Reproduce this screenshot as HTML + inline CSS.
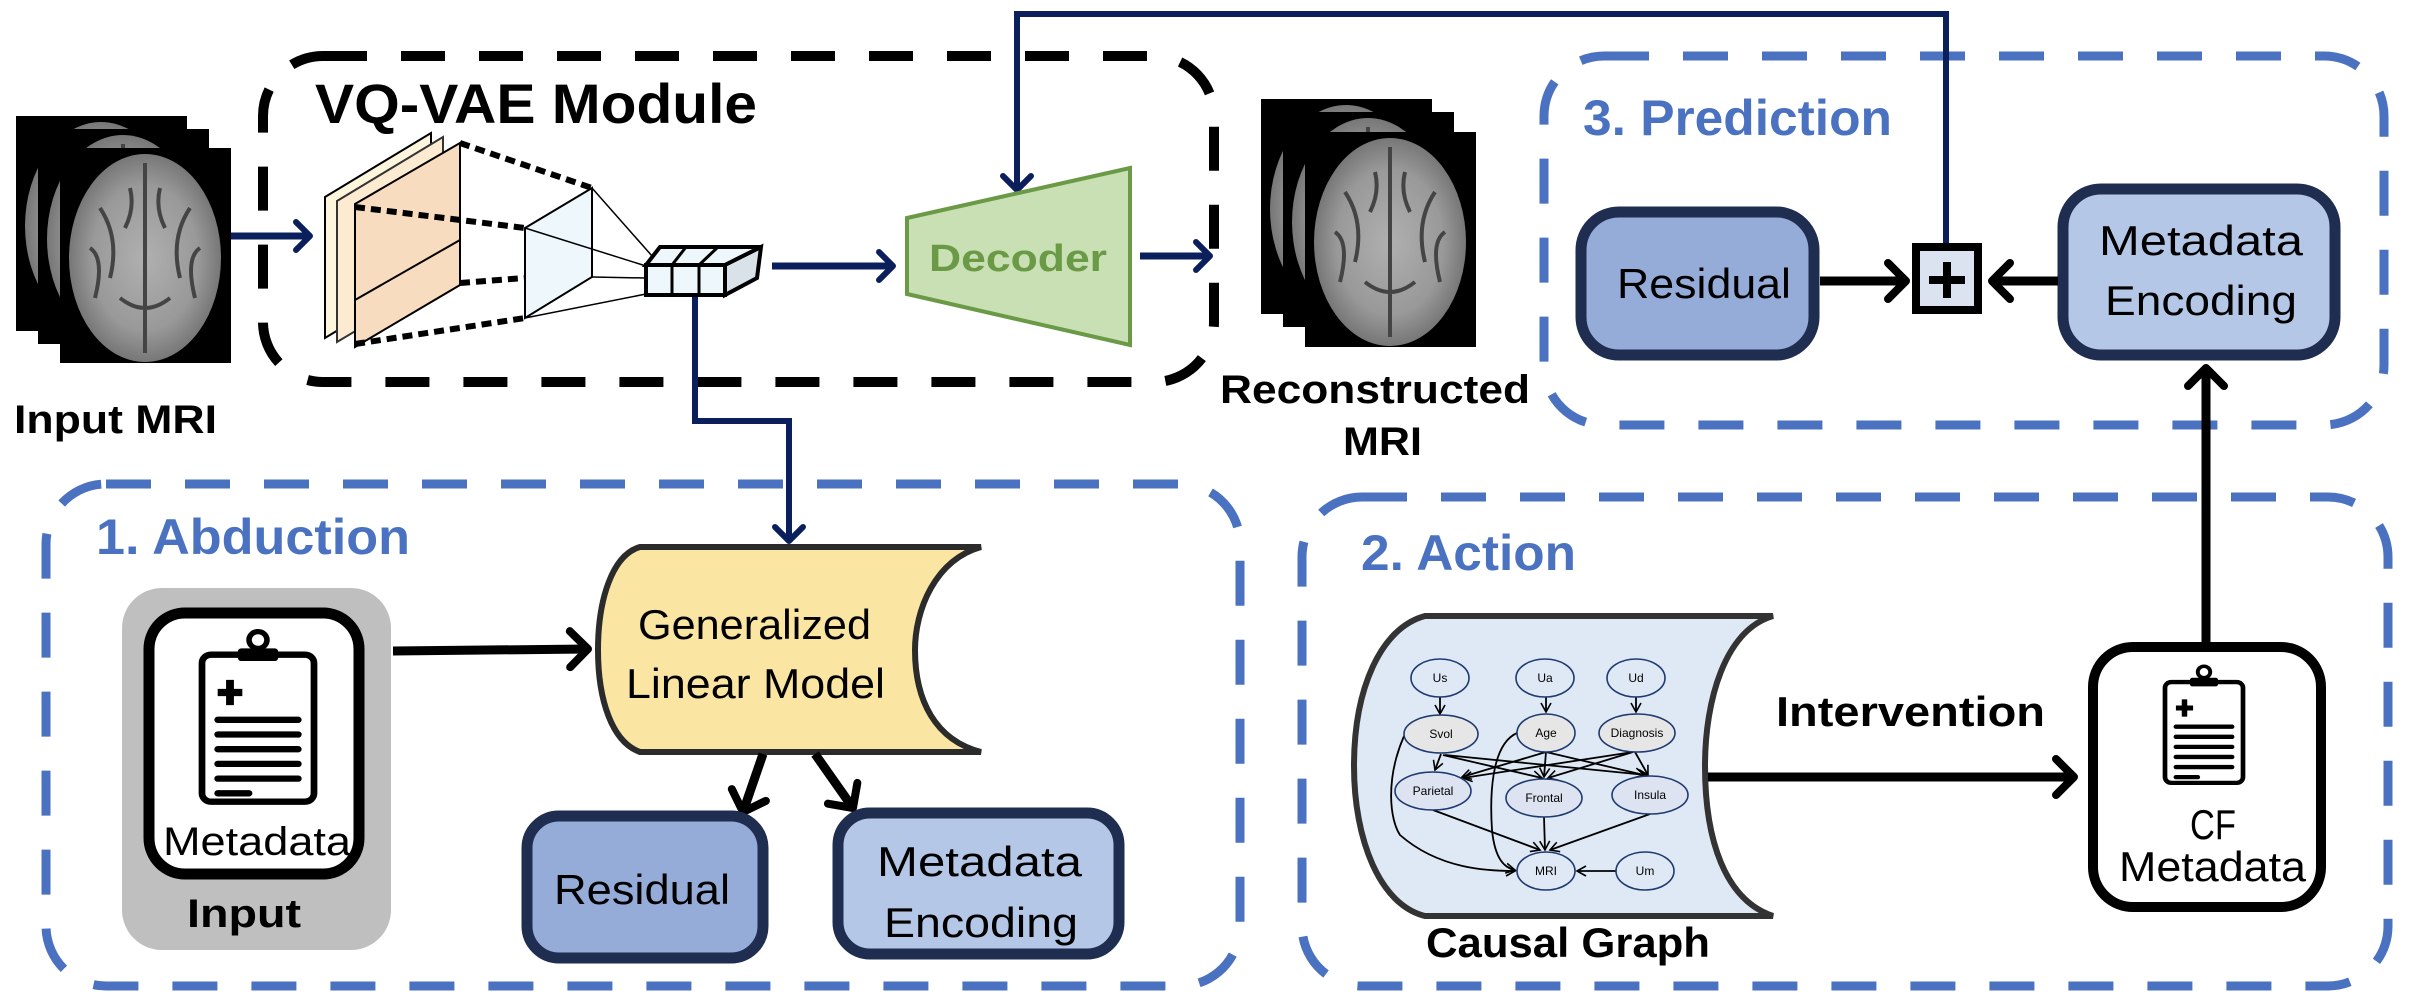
<!DOCTYPE html>
<html><head><meta charset="utf-8"><style>
html,body{margin:0;padding:0;background:#fff}
svg{display:block}
text{font-family:"Liberation Sans",sans-serif}
</style></head><body>
<svg width="2412" height="1008" viewBox="0 0 2412 1008" xmlns="http://www.w3.org/2000/svg">
<defs>
<marker id="an" markerUnits="userSpaceOnUse" markerWidth="40" markerHeight="40" refX="18" refY="20" orient="auto">
<path d="M4,6 L18,20 L4,34" fill="none" stroke="#0b1f5c" stroke-width="6" stroke-linecap="round" stroke-linejoin="round"/></marker>
<marker id="ak" markerUnits="userSpaceOnUse" markerWidth="50" markerHeight="50" refX="24" refY="25" orient="auto">
<path d="M6,7 L24,25 L6,43" fill="none" stroke="#000" stroke-width="8" stroke-linecap="round" stroke-linejoin="round"/></marker>
<marker id="as" markerUnits="userSpaceOnUse" markerWidth="12" markerHeight="12" refX="10" refY="6" orient="auto">
<path d="M1,1 L10,6 L1,11" fill="none" stroke="#000" stroke-width="1.6"/></marker>
<radialGradient id="br" cx="50%" cy="50%" r="50%">
<stop offset="0" stop-color="#b0b0b0"/><stop offset="0.7" stop-color="#999"/><stop offset="1" stop-color="#777"/></radialGradient>
<g id="slice">
<rect x="0" y="0" width="171" height="215" fill="#000"/>
<ellipse cx="85" cy="110" rx="76" ry="104" fill="url(#br)"/>
<path d="M85,15 L85,205 M40,60 Q60,90 50,130 M130,60 Q110,90 120,130 M60,150 Q85,170 110,150 M30,100 Q45,110 35,150 M140,100 Q125,110 135,150 M70,40 Q75,60 65,80 M100,40 Q95,60 105,80" stroke="#444" stroke-width="4" fill="none"/>
</g>
<g id="clip">
<rect x="0" y="14" width="100" height="140" rx="8" fill="#fff" stroke="#000" stroke-width="6"/>
<rect x="32" y="8" width="36" height="12" rx="3" fill="#000"/>
<circle cx="50" cy="0" r="8" fill="none" stroke="#000" stroke-width="5"/>
<path d="M14,50 h22 M25,38 v24" stroke="#000" stroke-width="7"/>
<path d="M14,76 h72 M14,90 h72 M14,104 h72 M14,118 h72 M14,132 h72" stroke="#000" stroke-width="6" stroke-linecap="round"/>
<path d="M14,146 h28" stroke="#000" stroke-width="6" stroke-linecap="round"/>
</g>
</defs>

<rect x="263" y="56" width="951" height="326" rx="60" fill="none" stroke="#000" stroke-width="10" stroke-dasharray="44 34"/>
<rect x="1544" y="56" width="840" height="369" rx="60" fill="none" stroke="#4a72c0" stroke-width="9" stroke-dasharray="45 34"/>
<rect x="46" y="484" width="1194" height="502" rx="60" fill="none" stroke="#4a72c0" stroke-width="9" stroke-dasharray="45 34"/>
<rect x="1302" y="497" width="1086" height="489" rx="60" fill="none" stroke="#4a72c0" stroke-width="9" stroke-dasharray="45 34"/>

<use href="#slice" x="16" y="116"/>
<use href="#slice" x="38" y="129"/>
<use href="#slice" x="60" y="148"/>
<text x="14" y="433" font-size="40" font-weight="bold" textLength="203" lengthAdjust="spacingAndGlyphs">Input MRI</text>

<use href="#slice" x="1261" y="99"/>
<use href="#slice" x="1283" y="112"/>
<use href="#slice" x="1305" y="132"/>
<text x="1220" y="403" font-size="40" font-weight="bold" textLength="310" lengthAdjust="spacingAndGlyphs">Reconstructed</text>
<text x="1343" y="455" font-size="40" font-weight="bold" textLength="79" lengthAdjust="spacingAndGlyphs">MRI</text>

<text x="315" y="123" font-size="56" font-weight="bold" textLength="442" lengthAdjust="spacingAndGlyphs">VQ-VAE Module</text>

<line x1="231" y1="236" x2="310" y2="236" stroke="#0b1f5c" stroke-width="7" marker-end="url(#an)"/>
<line x1="772" y1="266" x2="893" y2="266" stroke="#0b1f5c" stroke-width="7" marker-end="url(#an)"/>
<line x1="1140" y1="256" x2="1210" y2="256" stroke="#0b1f5c" stroke-width="7" marker-end="url(#an)"/>
<polyline points="1946,244 1946,14 1017,14 1017,190" fill="none" stroke="#0b1f5c" stroke-width="6" marker-end="url(#an)"/>
<polyline points="695,295 695,421 789,421 789,541" fill="none" stroke="#0b1f5c" stroke-width="6" marker-end="url(#an)"/>

<polygon points="325,197 431,133 431,274 325,338" fill="#fdf5dc" stroke="#000" stroke-width="2"/>
<polygon points="337,201 443,137 443,279 337,342" fill="#fcebd0" stroke="#333" stroke-width="2"/>
<polygon points="355,204 460,143 460,285 355,347" fill="#f8dcc0" stroke="#000" stroke-width="2"/>
<line x1="355" y1="300" x2="460" y2="240" stroke="#000" stroke-width="2"/>
<g stroke="#000" stroke-width="6" stroke-dasharray="10 6">
<line x1="460" y1="143" x2="592" y2="188"/>
<line x1="355" y1="207" x2="525" y2="228"/>
<line x1="460" y1="283" x2="525" y2="278"/>
<line x1="355" y1="344" x2="525" y2="318"/>
</g>
<polygon points="525,228 592,188 592,277 525,318" fill="#eef7fc" stroke="#000" stroke-width="2"/>
<g stroke="#000" stroke-width="1.5">
<line x1="592" y1="188" x2="660" y2="265"/>
<line x1="525" y1="228" x2="646" y2="266"/>
<line x1="592" y1="277" x2="646" y2="278"/>
<line x1="525" y1="318" x2="646" y2="294"/>
</g>
<polygon points="646,265 660,247 761,247 725,265" fill="#eef7fc" stroke="#000" stroke-width="4"/>
<polygon points="725,265 761,247 757,278 725,295" fill="#d8e2e8" stroke="#000" stroke-width="4"/>
<rect x="646" y="265" width="79" height="30" fill="#eef7fc" stroke="#000" stroke-width="4"/>
<path d="M672,265 v30 M699,265 v30 M686,247 L672,265 M718,247 L699,265" stroke="#000" stroke-width="3"/>

<polygon points="907,218 1130,168 1130,345 907,294" fill="#c9dfb4" stroke="#6a9a45" stroke-width="4"/>
<text x="1018" y="271" font-size="38" font-weight="bold" fill="#6a9a45" text-anchor="middle" textLength="178" lengthAdjust="spacingAndGlyphs">Decoder</text>

<text x="1583" y="135" font-size="50" font-weight="bold" fill="#4a72c0" textLength="309" lengthAdjust="spacingAndGlyphs">3. Prediction</text>
<rect x="1581" y="212" width="233" height="143" rx="38" fill="#95acd9" stroke="#1f2d50" stroke-width="11"/>
<text x="1617" y="298" font-size="42" textLength="174" lengthAdjust="spacingAndGlyphs">Residual</text>
<rect x="2063" y="189" width="272" height="166" rx="38" fill="#b4c7e7" stroke="#1f2d50" stroke-width="11"/>
<text x="2099" y="255" font-size="42" textLength="204" lengthAdjust="spacingAndGlyphs">Metadata</text>
<text x="2105" y="315" font-size="42" textLength="192" lengthAdjust="spacingAndGlyphs">Encoding</text>
<line x1="1820" y1="281" x2="1906" y2="281" stroke="#000" stroke-width="9" marker-end="url(#ak)"/>
<line x1="2058" y1="281" x2="1992" y2="281" stroke="#000" stroke-width="9" marker-end="url(#ak)"/>
<rect x="1916" y="247" width="62" height="63" fill="#dce3f0" stroke="#000" stroke-width="8"/>
<path d="M1947,262 v36 M1929,280 h36" stroke="#000" stroke-width="8"/>
<line x1="2206" y1="642" x2="2206" y2="368" stroke="#000" stroke-width="9" marker-end="url(#ak)"/>

<text x="96" y="554" font-size="50" font-weight="bold" fill="#4a72c0" textLength="314" lengthAdjust="spacingAndGlyphs">1. Abduction</text>
<rect x="122" y="588" width="269" height="362" rx="40" fill="#bfbfbf"/>
<rect x="149" y="613" width="210" height="261" rx="36" fill="#fff" stroke="#000" stroke-width="11"/>
<use href="#clip" transform="translate(202,640) scale(1.12,1.05)"/>
<text x="163" y="855" font-size="40" textLength="188" lengthAdjust="spacingAndGlyphs">Metadata</text>
<text x="187" y="927" font-size="40" font-weight="bold" textLength="114" lengthAdjust="spacingAndGlyphs">Input</text>
<line x1="393" y1="651" x2="588" y2="649" stroke="#000" stroke-width="9" marker-end="url(#ak)"/>
<path d="M640,547 L981,547 C935,560 915,610 915,650 C915,700 935,740 981,752 L640,752 C612,742 598,700 598,650 C598,600 612,555 640,547 Z" fill="#fae5a3" stroke="#2b2b2b" stroke-width="6"/>
<text x="638" y="639" font-size="42" textLength="233" lengthAdjust="spacingAndGlyphs">Generalized</text>
<text x="626" y="698" font-size="42" textLength="259" lengthAdjust="spacingAndGlyphs">Linear Model</text>
<line x1="763" y1="754" x2="743" y2="812" stroke="#000" stroke-width="9" marker-end="url(#ak)"/>
<line x1="815" y1="754" x2="853" y2="808" stroke="#000" stroke-width="9" marker-end="url(#ak)"/>
<rect x="527" y="816" width="236" height="142" rx="32" fill="#95acd9" stroke="#1f2d50" stroke-width="11"/>
<text x="554" y="904" font-size="42" textLength="176" lengthAdjust="spacingAndGlyphs">Residual</text>
<rect x="838" y="813" width="281" height="141" rx="32" fill="#b4c7e7" stroke="#1f2d50" stroke-width="11"/>
<text x="877" y="876" font-size="42" textLength="205" lengthAdjust="spacingAndGlyphs">Metadata</text>
<text x="884" y="937" font-size="42" textLength="194" lengthAdjust="spacingAndGlyphs">Encoding</text>

<text x="1361" y="570" font-size="50" font-weight="bold" fill="#4a72c0" textLength="215" lengthAdjust="spacingAndGlyphs">2. Action</text>
<path d="M1425,616 L1773,616 C1725,630 1705,700 1705,766 C1705,840 1725,900 1773,916 L1425,916 C1380,905 1354,840 1354,766 C1354,690 1380,628 1425,616 Z" fill="#dfe9f5" stroke="#333" stroke-width="6"/>
<g stroke="#000" stroke-width="1.8" fill="none" marker-end="url(#as)">
<line x1="1440" y1="697" x2="1440" y2="714"/>
<line x1="1546" y1="697" x2="1546" y2="712"/>
<line x1="1636" y1="697" x2="1636" y2="712"/>
<line x1="1441" y1="754" x2="1435" y2="770"/>
<line x1="1443" y1="755" x2="1542" y2="778"/>
<line x1="1445" y1="755" x2="1646" y2="775"/>
<line x1="1546" y1="752" x2="1462" y2="777"/>
<line x1="1546" y1="752" x2="1544" y2="777"/>
<line x1="1546" y1="752" x2="1644" y2="775"/>
<line x1="1633" y1="752" x2="1463" y2="778"/>
<line x1="1633" y1="752" x2="1548" y2="778"/>
<line x1="1635" y1="752" x2="1648" y2="775"/>
<line x1="1433" y1="810" x2="1540" y2="850"/>
<line x1="1544" y1="817" x2="1545" y2="850"/>
<line x1="1650" y1="814" x2="1550" y2="850"/>
<line x1="1616" y1="871" x2="1577" y2="871"/>
<path d="M1404,736 C1385,780 1390,820 1400,835 C1440,870 1490,871 1515,871"/>
<path d="M1517,733 C1490,745 1490,800 1492,830 C1495,860 1505,868 1515,870"/>
</g>
<g stroke="#1f3a70" stroke-width="1.6">
<ellipse cx="1440" cy="678" rx="29" ry="19" fill="#dfe9f5"/>
<ellipse cx="1545" cy="678" rx="29" ry="19" fill="#dfe9f5"/>
<ellipse cx="1636" cy="678" rx="29" ry="19" fill="#dfe9f5"/>
<ellipse cx="1441" cy="734" rx="37" ry="19" fill="#e6e6e6"/>
<ellipse cx="1546" cy="733" rx="29" ry="19" fill="#e6e6e6"/>
<ellipse cx="1637" cy="733" rx="38" ry="19" fill="#e6e6e6"/>
<ellipse cx="1433" cy="791" rx="38" ry="19" fill="#dde3f0"/>
<ellipse cx="1544" cy="798" rx="38" ry="19" fill="#dde3f0"/>
<ellipse cx="1650" cy="795" rx="38" ry="19" fill="#dde3f0"/>
<ellipse cx="1546" cy="871" rx="29" ry="19" fill="#dfe9f5"/>
<ellipse cx="1645" cy="871" rx="29" ry="19" fill="#dfe9f5"/>
</g>
<g font-size="12" text-anchor="middle" fill="#000">
<text x="1440" y="682">Us</text><text x="1545" y="682">Ua</text><text x="1636" y="682">Ud</text>
<text x="1441" y="738">Svol</text><text x="1546" y="737">Age</text><text x="1637" y="737">Diagnosis</text>
<text x="1433" y="795">Parietal</text><text x="1544" y="802">Frontal</text><text x="1650" y="799">Insula</text>
<text x="1546" y="875">MRI</text><text x="1645" y="875">Um</text>
</g>
<text x="1426" y="957" font-size="42" font-weight="bold" textLength="284" lengthAdjust="spacingAndGlyphs">Causal Graph</text>
<text x="1776" y="726" font-size="42" font-weight="bold" textLength="269" lengthAdjust="spacingAndGlyphs">Intervention</text>
<line x1="1708" y1="777" x2="2074" y2="777" stroke="#000" stroke-width="9" marker-end="url(#ak)"/>
<rect x="2093" y="647" width="228" height="260" rx="40" fill="#fff" stroke="#000" stroke-width="10"/>
<use href="#clip" transform="translate(2165,672) scale(0.78,0.72)"/>
<text x="2190" y="839" font-size="42" textLength="46" lengthAdjust="spacingAndGlyphs">CF</text>
<text x="2119" y="881" font-size="42" textLength="187" lengthAdjust="spacingAndGlyphs">Metadata</text>
</svg>
</body></html>
